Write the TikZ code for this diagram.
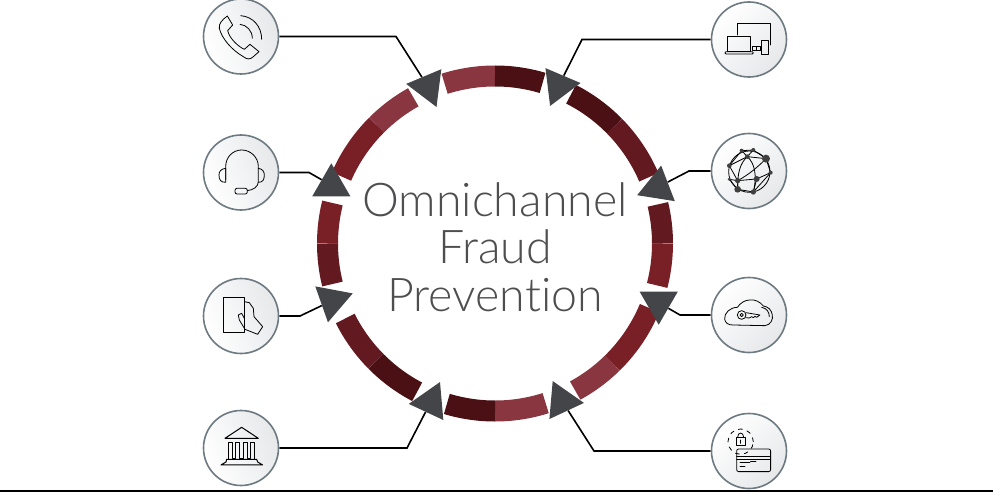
\documentclass[tikz,border=0pt]{standalone}
\usepackage{fontspec}
\setmainfont{Lato}[UprightFont={* Light},Ligatures=NoCommon]
\usepackage{xcolor}
\definecolor{ringRose}{RGB}{138, 54, 64}
\definecolor{ringRed}{RGB}{120, 32, 38}
\definecolor{ringWine}{RGB}{98, 26, 32}
\definecolor{ringDark}{RGB}{74, 16, 20}
\definecolor{triGrey}{RGB}{68, 69, 72}
\definecolor{discEdge}{RGB}{110, 122, 130}
\definecolor{discShade}{RGB}{230, 232, 234}
\definecolor{titleGrey}{RGB}{78, 78, 80}
\usetikzlibrary{positioning,shapes.geometric,backgrounds}
\tikzset{
  seg/.style={line width=21pt,color=#1},
  disc/.style={circle,draw=discEdge,line width=1.6pt,minimum size=75pt,inner sep=0pt},
  discL/.style={disc,top color=discShade,middle color=white,bottom color=white,shading angle=-70},
  discR/.style={disc,top color=white,middle color=white,bottom color=discShade,shading angle=45},
  tri/.style={regular polygon,regular polygon sides=3,fill=triGrey,minimum size=44pt,inner sep=0pt,rotate=#1},
  wire/.style={draw=black,line width=1.6pt},
  glyph/.style={draw=black,line width=0.8pt,line join=round,line cap=round},
  dot/.style={fill=black!75}
}

\begin{document}
\begin{tikzpicture}[x=1pt,y=-1pt]
\useasboundingbox (0,0) rectangle (993,492);
\coordinate (ringc) at (495,243.5);

\foreach \from/\to/\tone in {107.5/90/ringRose,90/73.5/ringDark,63/44.5/ringDark,44.5/23.3/ringWine,
  13.5/0/ringWine,0/-14.5/ringRed,-22.7/-45.5/ringRed,-45.5/-61.4/ringRose,-72.4/-90/ringRose,-90/-106.7/ringDark,
  -117.7/-135.4/ringDark,-135.4/-153.4/ringWine,-166/-180/ringWine,180/166/ringRed,156.4/135/ringRed,135/119.2/ringRose}
  \draw[seg=\tone] ([shift=(\from:167.5pt)]ringc) arc[start angle=\from,end angle=\to,radius=167.5pt];

\node[tri=82.7] (callTri) at (428,86.7) {};
\node[tri=0] (headTri) at (331.3,185.3) {};
\node[tri=169.4] (handTri) at (332,300.7) {};
\node[tri=95] (bankTri) at (430.7,402) {};
\node[tri=-83] (deviceTri) at (558.7,85.7) {};
\node[tri=-9] (globeTri) at (657.7,187.3) {};
\node[tri=180] (cloudTri) at (658.7,302.7) {};
\node[tri=-95] (cardTri) at (562,401) {};

\node[discL] (callDisc) at (241,36.5) {};
\node[discL] (headDisc) at (241,172.5) {};
\node[discL] (handDisc) at (241,316) {};
\node[discL] (bankDisc) at (241,448) {};
\node[discR] (deviceDisc) at (749,39.5) {};
\node[discR] (globeDisc) at (749,171) {};
\node[discR] (cloudDisc) at (749,315) {};
\node[discR] (cardDisc) at (749,451) {};

\coordinate (callBend) at (396,36.5);
\coordinate (headBend) at (309,172.5);
\coordinate (handBend) at (300,316);
\coordinate (bankBend) at (407,448);
\coordinate (deviceBend) at (582,39.5);
\coordinate (globeBend) at (689,171);
\coordinate (cloudBend) at (680,315);
\coordinate (cardBend) at (594,451);

\begin{scope}[on background layer]
\foreach \name in {call,head,hand,bank,device,globe,cloud,card}
  \draw[wire] (\name Disc) -- (\name Bend) -- (\name Tri);
\end{scope}

\node[text=titleGrey,font=\fontsize{46.5}{47.5}\selectfont,align=center] (title) at (495,247) {Omnichannel\\Fraud\\Prevention};

\begin{scope}[shift={(190,0)},scale=0.3333]
\draw[glyph] (112,48) -- (128,75) -- (113,92) .. controls (118,115) and (145,140) .. (163,148) -- (180,133) -- (207,155) -- (190,170)
  .. controls (180,180) and (170,178) .. (160,170) .. controls (125,150) and (95,115) .. (88,85) .. controls (86,72) and (95,60) .. (112,48) -- cycle;
\draw[glyph] (152,47) .. controls (190,50) and (215,80) .. (215,118);
\draw[glyph] (150,73) .. controls (170,75) and (187,92) .. (187,115);
\draw[glyph] (107,540) -- (107,500) .. controls (107,470) and (130,450) .. (155,450) .. controls (180,450) and (205,470) .. (205,500) -- (205,545)
  .. controls (205,560) and (190,570) .. (172,572);
\draw[glyph] (107,505) .. controls (92,507) and (87,515) .. (87,525) .. controls (87,540) and (92,547) .. (107,547) -- cycle;
\draw[glyph] (205,505) .. controls (218,507) and (223,515) .. (223,525) .. controls (223,540) and (218,547) .. (205,547);
\draw[glyph,rounded corners=2pt] (135,565) rectangle (172,582);
\end{scope}

\begin{scope}[shift={(190,250)},scale=0.3333]
\draw[glyph] (99,142) rectangle (163,247);
\draw[glyph] (163,155) -- (178,158) -- (190,175) -- (192,200) -- (218,230) -- (203,253) -- (165,238) -- (148,210) -- (145,195) -- (155,190) -- (163,205);
\draw[glyph,line width=1pt] (105,565) -- (155,532) -- (205,565) -- cycle;
\draw[glyph,line width=1pt] (115,628) -- (115,578) -- (127,578) -- (127,625) -- (137,625) -- (137,578) -- (149,578) -- (149,625) -- (160,625) -- (160,578) -- (172,578) -- (172,625) -- (183,625) -- (183,578) -- (195,578) -- (195,628);
\draw[glyph,line width=1pt] (110,628) -- (200,628) -- (203,636) -- (218,645) -- (93,645) -- (108,636) -- cycle;
\end{scope}

\begin{scope}[shift={(500,0)},scale=0.3333]
\draw[glyph] (712,105) -- (712,70) -- (810,70) -- (810,135);
\draw[glyph] (683,108) rectangle (752,155);
\draw[glyph,rounded corners=1pt] (675,155) rectangle (760,162);
\draw[glyph] (783,120) rectangle (806,163);
\draw[glyph] (757,140) rectangle (780,152);
\draw[glyph] (768,140) -- (768,152);
\draw[glyph] (748,515) circle[radius=62pt];
\draw[glyph] (725,452) -- (760,450) -- (798,476) -- (812,518) -- (770,537) -- (713,542) -- (688,497) -- (725,452);
\draw[glyph] (742,470) -- (725,452) (742,470) -- (760,450) (742,470) -- (798,476) (742,470) -- (688,497);
\draw[glyph] (742,470) .. controls (720,490) and (712,520) .. (713,568);
\draw[glyph] (742,470) .. controls (765,490) and (772,530) .. (760,576);
\draw[glyph] (688,538) -- (713,542) -- (713,568) -- (760,576) -- (770,537);
\draw[glyph] (688,538) -- (713,568) (798,476) .. controls (775,500) and (745,525) .. (713,542) (812,518) -- (760,576);
\foreach \gx/\gy/\gr in {725/452/6,760/450/6,742/470/7,798/476/12,688/497/7,812/518/6,770/537/9,713/542/8,688/538/5,713/568/10,760/576/8}
  \fill[dot] (\gx,\gy) circle[radius=\gr pt];
\end{scope}

\begin{scope}[shift={(500,250)},scale=0.3333]
\draw[glyph] (700,225) -- (795,227) .. controls (812,225) and (820,208) .. (817,195) .. controls (815,180) and (805,170) .. (790,168)
  .. controls (780,155) and (765,148) .. (750,150) .. controls (735,150) and (722,158) .. (712,172) .. controls (690,172) and (672,190) .. (674,207) .. controls (675,218) and (685,226) .. (700,225);
\draw[glyph] (785,172) .. controls (800,175) and (808,185) .. (808,200);
\draw[glyph] (725,195) circle[radius=13pt];
\draw[glyph] (725,195) circle[radius=5pt];
\draw[glyph] (738,188) -- (780,195) -- (770,202) -- (765,199) -- (760,203) -- (755,200) -- (748,204) -- (737,203);
\draw[glyph,rounded corners=2pt] (710,597) rectangle (812,665);
\draw[glyph] (710,618) -- (812,618) (710,628) -- (812,628);
\draw[glyph] (720,637) -- (750,637) (752,635) -- (768,635) (720,648) -- (735,648);
\draw[glyph] (708,562) rectangle (736,587);
\draw[glyph] (713,562) .. controls (713,545) and (731,545) .. (731,562);
\draw[glyph] (722,570) -- (722,580);
\draw[glyph,dash pattern=on 4pt off 5pt] (722,575) circle[radius=38pt];
\end{scope}

\draw[black,line width=2pt] (0,491) -- (993,491);
\end{tikzpicture}
\end{document}
